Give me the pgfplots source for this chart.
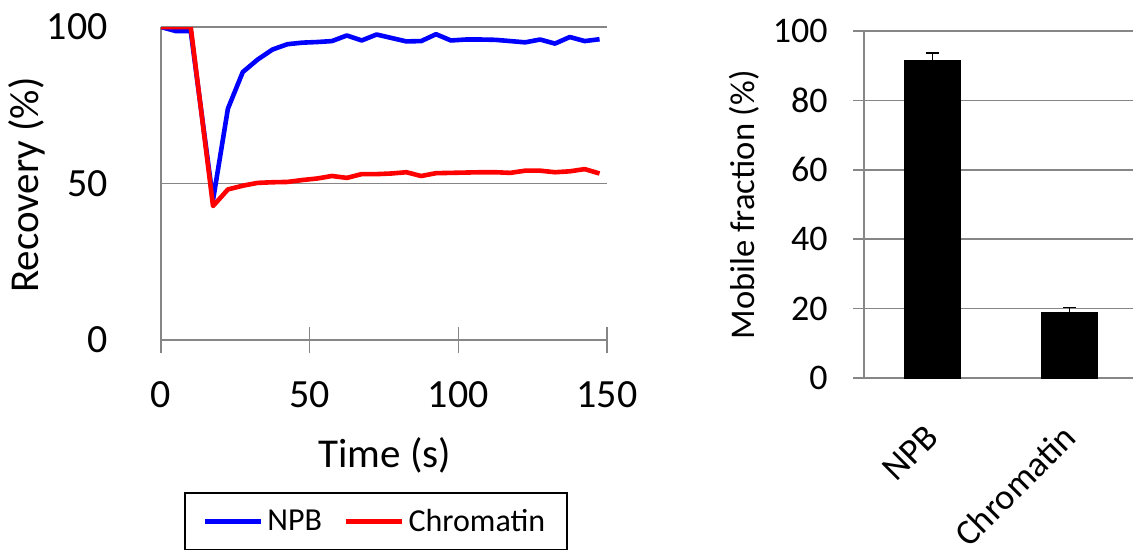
\documentclass[border=0pt]{standalone}
\usepackage{pgfplots}
\pgfplotsset{compat=1.18}
\usepackage{fontspec}
\setmainfont{Carlito}
\definecolor{axgray}{RGB}{134,134,134}
\definecolor{npbblue}{RGB}{0,0,255}
\definecolor{chrred}{RGB}{255,0,0}

% FRAP recovery curves
\pgfplotstableread{
t     npb    chr
0     100.0  100.0
5     98.7   100.0
10    98.7   100.0
17.5  44.7   42.8
22.5  73.9   48.1
27.5  85.6   49.3
32.5  89.6   50.2
37.5  92.8   50.4
42.5  94.5   50.5
47.5  95.0   51.1
52.5  95.2   51.6
57.5  95.5   52.4
62.5  97.3   51.8
67.5  95.7   53.0
72.5  97.6   53.0
77.5  96.5   53.2
82.5  95.4   53.6
87.5  95.5   52.4
92.5  97.7   53.3
97.5  95.7   53.4
102.5 96.0   53.5
107.5 96.0   53.6
112.5 95.9   53.6
117.5 95.5   53.4
122.5 95.1   54.1
127.5 96.0   54.1
132.5 94.7   53.6
137.5 96.8   53.9
142.5 95.5   54.6
147.5 96.1   53.2
}\recovery

% mobile fraction, with plus error
\pgfplotstableread{
x  val   err
0  91.6  2.1
1  19.0  1.4
}\mobile

\begin{document}
\begin{tikzpicture}
\useasboundingbox (0,0) rectangle (566.5bp,-275bp);
\begin{axis}[
    at={(80.5bp,-170bp)}, anchor=south west,
    scale only axis, width=223bp, height=156.5bp,
    xmin=0, xmax=150, ymin=0, ymax=100,
    xtick={0,50,100,150}, ytick={0,50,100},
    axis x line*=bottom, axis y line*=left,
    axis line style={axgray, line width=0.8bp},
    ymajorgrids, grid style={axgray, line width=0.8bp},
    major tick length=13bp, tick align=center,
    xtick style={axgray, line width=0.8bp},
    ytick style={draw=none},
    /pgf/number format/assume math mode=true,
    tick label style={font=\fontsize{20bp}{24bp}\selectfont, inner sep=0pt},
    xticklabel style={anchor=north, yshift=-14bp},
    yticklabel style={anchor=east, xshift=-20bp},
    xlabel={Time (s)}, ylabel={Recovery (\%)},
    label style={font=\fontsize{20.5bp}{24bp}\selectfont},
    xlabel style={at={(axis description cs:0.502,-0.367)}, anchor=center},
    ylabel style={at={(axis description cs:-0.300,0.495)}, anchor=center, rotate=0},
    legend columns=2,
    legend style={at={(axis description cs:0.0516,-0.486)}, anchor=north west,
      draw=black, line width=0.8bp, inner xsep=9bp, inner ysep=6bp,
      font=\fontsize{16bp}{19bp}\selectfont,
      nodes={inner sep=2bp},
      /tikz/every even column/.append style={column sep=9bp}},
    legend image code/.code={\draw[#1, line width=2.3bp] (0bp,0bp) -- (28bp,0bp);},
  ]
  \addplot[npbblue, line width=2.3bp, line join=round] table[x=t, y=npb] {\recovery};
  \addplot[chrred, line width=2.3bp, line join=round] table[x=t, y=chr] {\recovery};
  \legend{NPB, Chromatin}
\end{axis}

\begin{axis}[
    at={(432bp,-189bp)}, anchor=south west,
    scale only axis, width=137bp, height=173.5bp,
    xmin=-0.5, xmax=1.5, ymin=0, ymax=100,
    xtick={0,1}, xticklabels={NPB, Chromatin},
    ytick={0,20,40,60,80,100},
    axis x line*=bottom, axis y line*=left,
    axis line style={axgray, line width=0.8bp},
    ymajorgrids, grid style={axgray, line width=0.8bp},
    major tick length=5.5bp, tick align=outside,
    ytick style={axgray, line width=0.8bp},
    xtick style={draw=none},
    /pgf/number format/assume math mode=true,
    tick label style={font=\fontsize{18bp}{22bp}\selectfont, inner sep=0pt},
    yticklabel style={anchor=east, xshift=-12.5bp},
    xticklabel style={yshift=-21bp, rotate=45, anchor=east},
    ylabel={Mobile fraction (\%)},
    ylabel style={font=\fontsize{17.3bp}{21bp}\selectfont,
      at={(axis description cs:-0.438,0.499)}, anchor=center},
  ]
  \addplot[ybar, bar width=28bp, fill=black, draw=black,
    error bars/.cd, y dir=plus, y explicit,
    error bar style={black, line width=0.7bp},
    error mark options={rotate=90, mark size=3.3bp, black, line width=0.7bp}]
    table[x=x, y=val, y error=err] {\mobile};
\end{axis}
\end{tikzpicture}
\end{document}
